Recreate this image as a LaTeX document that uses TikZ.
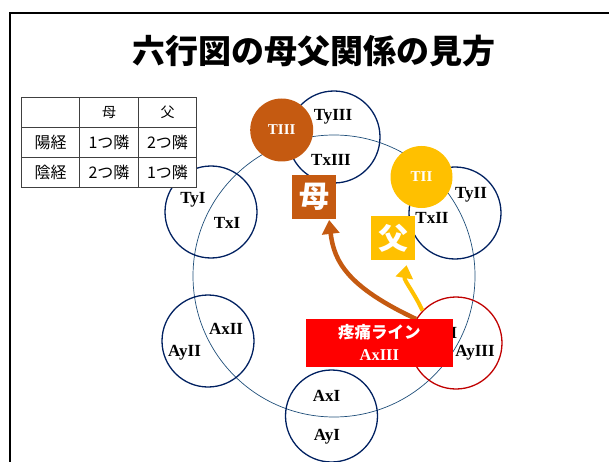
\documentclass[tikz,border=0pt]{standalone}
\usepackage{fontspec}
\setmainfont{Liberation Serif}
\newfontfamily\jp{Noto Sans CJK JP}
\usepackage{tikz}
\usetikzlibrary{positioning,arrows.meta}
\definecolor{muorange}{HTML}{C55A11}
\definecolor{fugold}{HTML}{FFC000}
\definecolor{ringblue}{HTML}{002060}
\definecolor{wheelblue}{HTML}{1F4E79}
\definecolor{painred}{HTML}{C00000}

\begin{document}
\begin{tikzpicture}[x=1pt, y=-1pt,
    ring/.style={draw=ringblue, line width=1.3pt, circle, minimum size=92pt, inner sep=0pt},
    lbl/.style={draw=none, font=\fontsize{17}{17}\selectfont\bfseries},
    hub/.style={circle, minimum size=63pt, inner sep=0pt, text=white, font=\fontsize{15}{15}\selectfont\bfseries},
    tag/.style={draw=none, text=white, minimum size=44pt, inner sep=0pt, font=\jp\bfseries\fontsize{30}{30}\selectfont},
    cell/.style={draw=black!75, fill=white, line width=1pt, outer sep=0pt, inner sep=0pt, minimum width=58.5pt, minimum height=30pt, font=\jp\fontsize{16}{16}\selectfont},
    head/.style={cell, font=\jp\fontsize{14}{14}\selectfont}]
	\useasboundingbox (0,0) rectangle (609,462);
	\draw[line width=2pt] (10,13) rectangle (640,500);
	
	\node[draw=none, font=\jp\bfseries\fontsize{33}{33}\selectfont] (title) at (313.6,51) {六行図の母父関係の見方};
	
	\node[draw=wheelblue, line width=0.7pt, circle, minimum size=282pt, inner sep=0pt] (wheel) at (334,276) {};
	
	\node[ring] (r3) at (334,137) {};
	\node[ring] (r2) at (455,213) {};
	\node[ring] (r1) at (211,212) {};
	\node[ring] (a2) at (208,341) {};
	\node[ring, draw=painred] (a3) at (456,343) {};
	\node[ring] (a1) at (331.5,416) {};
	
	\node[hub, fill=muorange] (tiii) at (281.7,130) {TIII};
	\node[hub, fill=fugold, minimum size=62pt] (tii) at (421.5,177) {TII};
	
	\node[lbl] (tyiii) at (333,117) {TyIII};
	\node[lbl] (txiii) at (331,160) {TxIII};
	\node[lbl] (tyii) at (471,195) {TyII};
	\node[lbl] (txii) at (432,218) {TxII};
	\node[lbl] (tyi) at (193,200) {TyI};
	\node[lbl] (txi) at (227,223) {TxI};
	\node[lbl] (axii) at (226,329) {AxII};
	\node[lbl] (ayii) at (184.5,353) {AyII};
	\node[lbl] (axi) at (326.5,396) {AxI};
	\node[lbl] (ayi) at (327,437) {AyI};
	\node[lbl] (ayiii) at (475,353) {AyIII};
	\node[lbl] (axiii) at (437,333) {AxIII};
	
	\node[tag, fill=muorange] (mu) at (314,196.7) {母};
	\node[tag, fill=fugold] (fu) at (393,238) {父};
	
	\draw[muorange, line width=4.5pt, -{Triangle[width=17pt,length=14pt]}, shorten >=1pt]
		(a3.149) .. controls (348,287) and (334,262) .. (mu.-56);
	\path [-{Triangle[width=17pt,length=13pt]}]
		(a3.136) edge[fugold, line width=4pt, out=115, in=-100, shorten >=5pt] (fu.-57)
	;
	
	\node[draw=none, fill=red, text=white, minimum width=147pt, minimum height=48pt, align=center, font=\fontsize{16.5}{22}\selectfont] (pain) at (379.3,342.8) {{\jp\bfseries 疼痛ライン}\\\textbf{AxIII}};
	
	\node[cell] (c00) at (50.5,112.2) {};
	\node[head, right=0pt of c00] (c01) {母};
	\node[head, right=0pt of c01] (c02) {父};
	\node[cell, below=0pt of c00] (c10) {陽経};
	\node[cell, right=0pt of c10] (c11) {1つ隣};
	\node[cell, right=0pt of c11] (c12) {2つ隣};
	\node[cell, below=0pt of c10] (c20) {陰経};
	\node[cell, right=0pt of c20] (c21) {2つ隣};
	\node[cell, right=0pt of c21] (c22) {1つ隣};
\end{tikzpicture}
\end{document}
